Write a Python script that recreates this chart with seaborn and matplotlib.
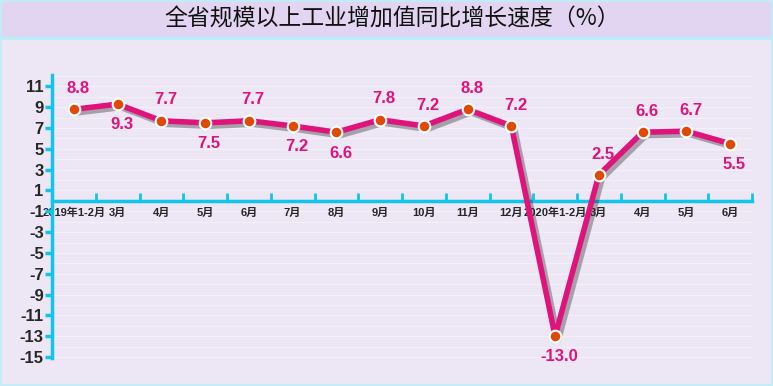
import matplotlib
matplotlib.use("Agg")
import matplotlib.pyplot as plt
import matplotlib.patheffects as pe
from matplotlib.patches import Rectangle
import numpy as np
import pandas as pd
import seaborn as sns

# data
months = ["2019年1-2月", "3月", "4月", "5月", "6月", "7月", "8月", "9月", "10月",
          "11月", "12月", "2020年1-2月", "3月", "4月", "5月", "6月"]
growth = [8.8, 9.3, 7.7, 7.5, 7.7, 7.2, 6.6, 7.8, 7.2, 8.8, 7.2, -13.0, 2.5, 6.6, 6.7, 5.5]
label_side = [1, -1, 1, -1, 1, -1, -1, 1, 1, 1, 1, -1, 1, 1, 1, -1]
yticks = list(range(11, -16, -2))

title = "全省规模以上工业增加值同比增长速度（%）"

sns.set_style("white")
plt.rcParams['font.family'] = ['Liberation Sans', 'Noto Sans CJK SC', 'DejaVu Sans']

df = pd.DataFrame({"idx": np.arange(len(months)), "val": growth})

bg = "#ece6f5"
cyan = "#10c4ee"
pink = "#e0137a"

fig = plt.figure(figsize=(7.73, 3.86), dpi=100, facecolor=bg)
# title band
fig.patches.append(Rectangle((0, 1 - 38 / 386), 1, 38 / 386, transform=fig.transFigure,
                             facecolor="#e2d5f1", edgecolor="none", zorder=0))
fig.patches.append(Rectangle((0, 1 - 40 / 386), 1, 2.5 / 386, transform=fig.transFigure,
                             facecolor="#b8eef8", edgecolor="none", zorder=0))
fig.patches.append(Rectangle((0.001, 0.002), 0.998, 0.996, transform=fig.transFigure,
                             facecolor="none", edgecolor="#bdeff8", lw=1.2, zorder=0))
fig.text(0.507, 1 - 19 / 386, title, ha="center", va="center", fontsize=16.5,
         family=['Noto Sans CJK SC', 'DejaVu Sans'], fontweight="medium", color="#111111")

ax = fig.add_axes([52 / 773, 28 / 386, 700 / 773, 283 / 386])
ax.set_facecolor(bg)

for v in range(-15, 13):
    ax.axhline(v, color="#f4f0fa", lw=0.8, zorder=0)

sns.lineplot(data=df, x="idx", y="val", ax=ax, color=pink, lw=4, zorder=3,
             path_effects=[pe.SimpleLineShadow(offset=(2.5, -2.5), shadow_color="#222222", alpha=0.35),
                           pe.Normal()])
sns.scatterplot(data=df, x="idx", y="val", ax=ax, color="#e04a00", edgecolor="white",
                linewidth=1.5, s=70, zorder=4)

for i, (v, s) in enumerate(zip(growth, label_side)):
    ax.annotate(f"{v:.1f}", (i, v), xytext=(3, 15 * s), textcoords="offset points",
                ha="center", va="center", fontsize=12, fontweight="bold", color=pink)

ax.set_xlim(-0.5, len(months) - 0.5)
ax.set_ylim(-15.1, 12.1)
ax.set_xlabel("")
ax.set_ylabel("")

for side in ["top", "right"]:
    ax.spines[side].set_visible(False)
ax.spines["left"].set_color(cyan)
ax.spines["left"].set_linewidth(2.5)
ax.spines["bottom"].set_color(cyan)
ax.spines["bottom"].set_linewidth(2.5)
ax.spines["bottom"].set_position(("data", 0))

ax.set_yticks(yticks)
ax.set_yticklabels([str(t) for t in yticks], fontsize=12, fontweight="bold")
ax.tick_params(axis="y", left=True, direction="out", length=5, width=2.5, color=cyan, pad=1)

ax.set_xticks(np.arange(len(months)))
ax.set_xticklabels(months, fontsize=8, fontweight="bold")
ax.set_xticks(np.arange(len(months) + 1) - 0.5, minor=True)
ax.tick_params(axis="x", which="major", bottom=True, length=0, pad=5)
ax.tick_params(axis="x", which="minor", bottom=True, direction="in", length=6, width=2, color=cyan)

fig.savefig("out.png", dpi=100, facecolor=bg)
